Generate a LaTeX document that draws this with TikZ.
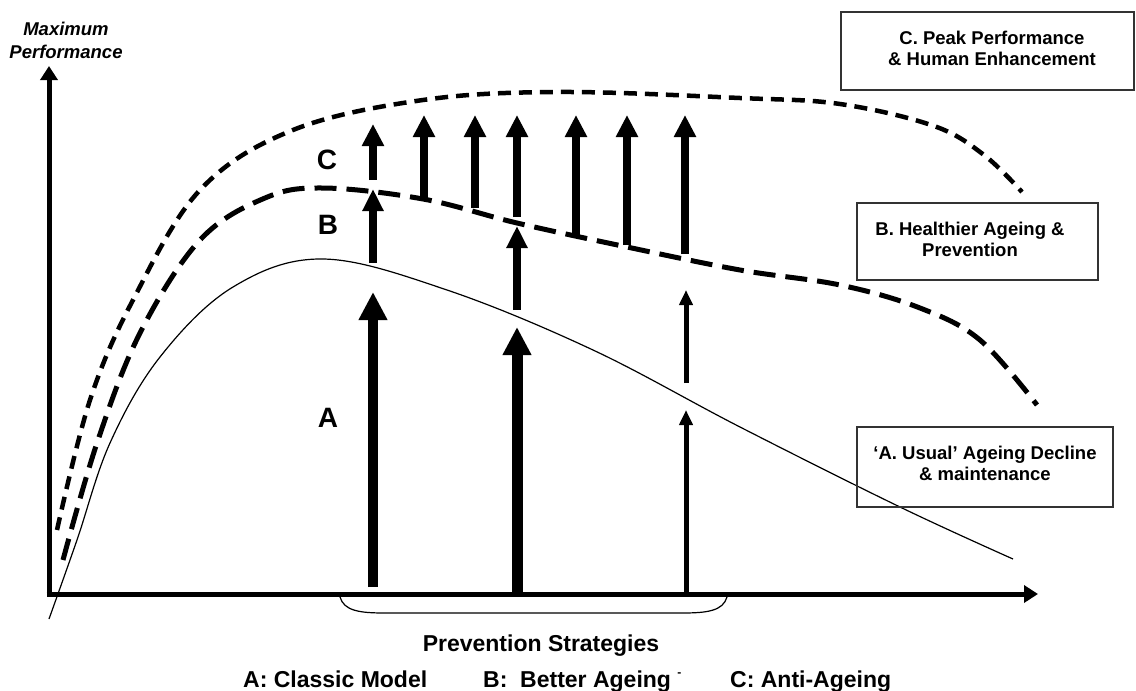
\documentclass[tikz,border=0pt]{standalone}
\usepackage{fontspec}
\setmainfont{Liberation Sans}
\usetikzlibrary{arrows.meta}

\tikzset{
    axis/.style = {line width=5pt, -{Triangle[length=14pt, width=17pt]}},
    usual/.style = {line width=1.2pt},
    healthier/.style = {line width=5pt, dash pattern=on 22pt off 10pt},
    peak/.style = {line width=4.5pt, dash pattern=on 13pt off 8pt},
    liftA/.style = {line width=10pt, -{Triangle[length=28pt, width=27pt]}},
    liftB/.style = {line width=8pt, -{Triangle[length=22pt, width=20pt]}},
    liftC/.style = {line width=7.5pt, -{Triangle[length=22pt, width=21pt]}},
    liftS/.style = {line width=5pt, -{Triangle[length=15pt, width=13pt]}},
    legendbox/.style = {draw=black!80, line width=1.2pt, inner sep=0pt},
    legendtext/.style = {align=center, font=\bfseries\fontsize{18.5}{21}\selectfont},
    zone/.style = {font=\bfseries\fontsize{28}{30}\selectfont},
    strategy/.style = {font=\bfseries\fontsize{23}{26}\selectfont}
}

\begin{document}
\begin{tikzpicture}[x=1pt, y=-1pt]
        \useasboundingbox (0,0) rectangle (1136,691);

        % axes
        \draw [axis] (49,596.5) -- (49,66);
        \draw [axis] (46.5,594) -- (1038,594);
        \node [align=center, font=\bfseries\itshape\fontsize{18.5}{23}\selectfont]
            (ylabel) at (66,40) {Maximum\\Performance};

        % the three curves
        \draw [usual] plot [smooth, tension=0.6] coordinates {(49,619) (77,540) (110,443)
            (160,357) (233,287) (323,259) (447,290) (593,350) (740,427) (900,507)
            (1013,559)};
        \draw [healthier] plot [smooth, tension=0.6] coordinates {(63,560) (97,443)
            (140,333) (200,240) (265,198) (323,188) (423,199) (517,223) (627,247)
            (740,270) (840,285) (920,308) (980,340) (1037,405)};
        \draw [peak] plot [smooth, tension=0.6] coordinates {(57,530) (90,400) (133,300)
            (200,190) (293,130) (423,100) (560,92) (740,98) (840,104) (934,126) (984,155)
            (1022,192)};

        % lifts A -> B -> C
        \draw [liftA] (373,587) -- (373,292);
        \draw [liftA, line width=11pt] (517,594) -- (517,327);
        \draw [liftS] (686,594) -- (686,410);
        \draw [liftS] (686,383) -- (686,290);
        \draw [liftB] (373,263) -- (373,189);
        \draw [liftB] (517,310) -- (517,226);
        \foreach \x/\y/\t in {373/180/124, 424/198/115, 475/208/115, 517/217/115,
                576/235/115, 627/245/115, 685/254/115}
            \draw [liftC] (\x,\y) -- (\x,\t);

        \node [zone] (zoneA) at (328,418) {A};
        \node [zone] (zoneB) at (328,225) {B};
        \node [zone] (zoneC) at (327,160) {C};

        % legend boxes
        \node [legendbox, minimum width=293, minimum height=78] (boxC) at (987.5,51) {};
        \node [legendtext] (textC) at (992,48.3) {C. Peak Performance\\\& Human Enhancement};
        \node [legendbox, minimum width=241, minimum height=77] (boxB) at (977.5,241.5) {};
        \node [legendtext] (textB) at (970,239.3) {B. Healthier Ageing \&\\Prevention};
        \node [legendbox, minimum width=256, minimum height=80] (boxA) at (985,467) {};
        \node [legendtext] (textA) at (985,463.3) {‘A. Usual’ Ageing Decline\\\& maintenance};

        % strategies
        \draw [line width=1.2pt] (340,597) .. controls (344,611) and (360,613) .. (385,613)
            -- (682,613) .. controls (707,613) and (723,611) .. (727,597);
        \node [strategy, anchor=base] (prev) at (541,651) {Prevention Strategies};
        \node [strategy, anchor=base west, inner sep=0pt] (classic) at (243,687) {A: Classic Model};
        \node [strategy, anchor=base west, inner sep=0pt] (better) at (483,687)
            {B:\ \ Better Ageing \raisebox{0.45em}{\fontsize{12}{12}\selectfont -}};
        \node [strategy, anchor=base west, inner sep=0pt] (anti) at (730,687) {C: Anti-Ageing};
\end{tikzpicture}
\end{document}
